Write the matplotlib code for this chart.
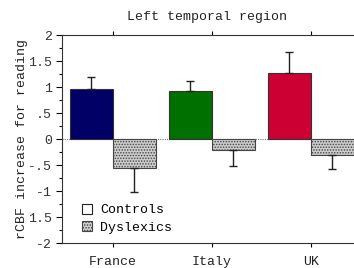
import matplotlib
matplotlib.use("Agg")
import matplotlib.pyplot as plt
from matplotlib.patches import Patch
from matplotlib.ticker import MultipleLocator

# values
countries = ["France", "Italy", "UK"]
controls = [0.96, 0.93, 1.27]
controls_err = [0.23, 0.19, 0.40]
dyslexics = [-0.56, -0.21, -0.30]
dyslexics_err = [0.46, 0.31, 0.28]
control_colors = ["#000066", "#007000", "#cc0033"]
ytick_vals = [2, 1.5, 1, 0.5, 0, -0.5, -1, -1.5, -2]
ytick_text = ["2", "1.5", "1", ".5", "0", "-.5", "-1", "1.5", "-2"]

plt.rcParams["font.family"] = ["Liberation Mono", "DejaVu Sans Mono"]
plt.rcParams["hatch.linewidth"] = 0.7

fig = plt.figure(figsize=(3.54, 2.68), dpi=100)
ax = fig.add_axes([0.175, 0.093, 0.847, 0.776])

x = list(range(len(countries)))
w = 0.434
xc = [i - w / 2 for i in x]
xd = [i + w / 2 for i in x]

ax.bar(xc, controls, width=w, color=control_colors, edgecolor="#333333", linewidth=0.8, zorder=2)
ax.bar(xd, dyslexics, width=w, color="#cccccc", edgecolor="#444444", hatch="......",
       linewidth=0.8, zorder=2)

# one-sided error bars
ax.errorbar(xc, controls, yerr=[[0] * 3, controls_err], fmt="none", ecolor="#222222",
            elinewidth=1, capsize=3, capthick=1, zorder=3)
ax.errorbar(xd, dyslexics, yerr=[dyslexics_err, [0] * 3], fmt="none", ecolor="#222222",
            elinewidth=1, capsize=3, capthick=1, zorder=3)

ax.axhline(0, color="#777777", linestyle=(0, (1, 1)), linewidth=0.8, zorder=1)

ax.set_xlim(-0.515, 2.515)
ax.set_ylim(-2, 2)
ax.set_xticks(x)
ax.set_xticklabels(countries, fontsize=9.5, color="#222222")
ax.set_yticks(ytick_vals)
ax.set_yticklabels(ytick_text, fontsize=9.5, color="#333333")
ax.yaxis.set_minor_locator(MultipleLocator(0.25))
ax.tick_params(axis="y", which="major", length=4, width=0.8, direction="out", pad=3)
ax.tick_params(axis="y", which="minor", length=2, width=0.8, direction="out")
ax.tick_params(axis="x", length=3, width=0.8, direction="out", top=True, pad=6)
for s in ax.spines.values():
    s.set_linewidth(0.8)
    s.set_color("#333333")

ax.set_ylabel("rCBF increase for reading", fontsize=9.5, color="#222222", labelpad=0)
ax.set_title("Left temporal region", fontsize=9.5, color="#222222", x=0.485, pad=11)

handles = [Patch(facecolor="white", edgecolor="#222222", linewidth=0.8),
           Patch(facecolor="#cccccc", edgecolor="#444444", hatch="......", linewidth=0.8)]
ax.legend(handles, ["Controls", "Dyslexics"], loc="lower left", bbox_to_anchor=(0.027, -0.012),
          frameon=False, fontsize=9.5, handlelength=0.8, handleheight=0.8,
          handletextpad=0.6, labelspacing=0.35)

fig.savefig("out.png", dpi=100)
